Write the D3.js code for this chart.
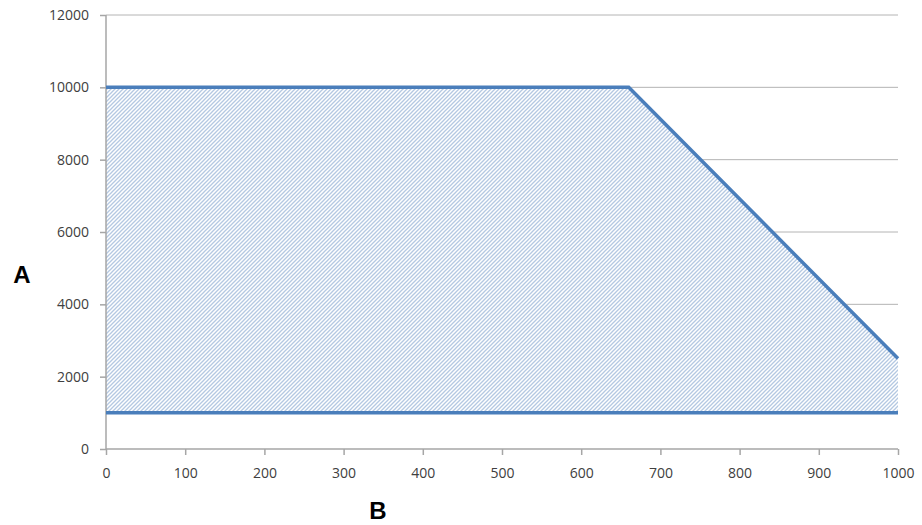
<!DOCTYPE html>
<html>
<head>
<meta charset="utf-8">
<script src="https://cdn.jsdelivr.net/npm/d3@7"></script>
<style>
  body { margin: 0; background: #fff; }
  text { font-family: "Open Sans", "Liberation Sans", sans-serif; }
</style>
</head>
<body>
<div id="chart"></div>
<script>
// upper boundary (B, A)
var upperB = [0, 660, 1000];
var upperA = [10000, 10000, 2500];
// lower boundary
var lowerB = [0, 1000];
var lowerA = [1000, 1000];

var xTicks = [0, 100, 200, 300, 400, 500, 600, 700, 800, 900, 1000];
var yTicks = [0, 2000, 4000, 6000, 8000, 10000, 12000];

var width = 922, height = 525;
var margin = {left: 106, right: 24, top: 15, bottom: 76};

var svg = d3.select("#chart").append("svg")
    .attr("width", width)
    .attr("height", height);

var x = d3.scaleLinear().domain([0, 1000]).range([margin.left, width - margin.right]);
var y = d3.scaleLinear().domain([0, 12000]).range([height - margin.bottom, margin.top]);

// hatch pattern
var defs = svg.append("defs");
var pat = defs.append("pattern")
    .attr("id", "hatch")
    .attr("patternUnits", "userSpaceOnUse")
    .attr("width", 4)
    .attr("height", 4);
pat.append("rect").attr("width", 4).attr("height", 4).attr("fill", "#fff");
pat.append("path")
    .attr("d", "M-1,1 l2,-2 M0,4 l4,-4 M3,5 l2,-2")
    .attr("stroke", "#b4c8e2")
    .attr("stroke-width", 1.3);

// gridlines
svg.append("g")
    .selectAll("line")
    .data(yTicks.filter(function(d) { return d > 0; }))
    .enter()
    .append("line")
    .attr("x1", x(0))
    .attr("x2", x(1000))
    .attr("y1", function(d) { return y(d); })
    .attr("y2", function(d) { return y(d); })
    .attr("stroke", "#b4b4b4")
    .attr("stroke-width", 1);

// filled area
var upperPts = upperB.map(function(b, i) { return [b, upperA[i]]; });
var lowerPts = lowerB.map(function(b, i) { return [b, lowerA[i]]; });
var poly = upperPts.concat(lowerPts.slice().reverse());

var line = d3.line()
    .x(function(d) { return x(d[0]); })
    .y(function(d) { return y(d[1]); });

svg.append("path")
    .attr("d", line(poly) + "Z")
    .attr("fill", "url(#hatch)")
    .attr("stroke", "none");

// axes
var yAxis = d3.axisLeft(y).tickValues(yTicks).tickFormat(d3.format("d")).tickSize(6).tickPadding(11);
var gy = svg.append("g")
    .attr("transform", "translate(" + x(0) + ",0)")
    .call(yAxis);

var xAxis = d3.axisBottom(x).tickValues(xTicks).tickFormat(d3.format("d")).tickSize(6).tickPadding(13);
var gx = svg.append("g")
    .attr("transform", "translate(0," + y(0) + ")")
    .call(xAxis);

[gx, gy].forEach(function(g) {
    g.select(".domain").attr("stroke", "#a6a6a6").attr("stroke-width", 1.5);
    g.selectAll(".tick line").attr("stroke", "#a6a6a6").attr("stroke-width", 1.5);
    g.selectAll(".tick text")
        .attr("fill", "#404040")
        .attr("font-size", 14)
        .style("font-family", "'Open Sans', 'Liberation Sans', sans-serif");
});
gy.select(".domain").attr("d", "M0," + y(0) + "V" + y(12000));
gx.select(".domain").attr("d", "M" + x(0) + ",0H" + x(1000));

// boundary lines
svg.append("path")
    .attr("d", line(upperPts))
    .attr("fill", "none")
    .attr("stroke", "#4a7ebb")
    .attr("stroke-width", 3.5);

svg.append("path")
    .attr("d", line(lowerPts))
    .attr("fill", "none")
    .attr("stroke", "#4a7ebb")
    .attr("stroke-width", 3.5);

// axis titles
svg.append("text")
    .attr("x", 22)
    .attr("y", 283)
    .attr("text-anchor", "middle")
    .attr("font-size", 24)
    .attr("font-weight", "bold")
    .style("font-family", "'Liberation Sans', Arial, sans-serif")
    .text("A");

svg.append("text")
    .attr("x", 378)
    .attr("y", 519)
    .attr("text-anchor", "middle")
    .attr("font-size", 24)
    .attr("font-weight", "bold")
    .style("font-family", "'Liberation Sans', Arial, sans-serif")
    .text("B");
</script>
</body>
</html>
